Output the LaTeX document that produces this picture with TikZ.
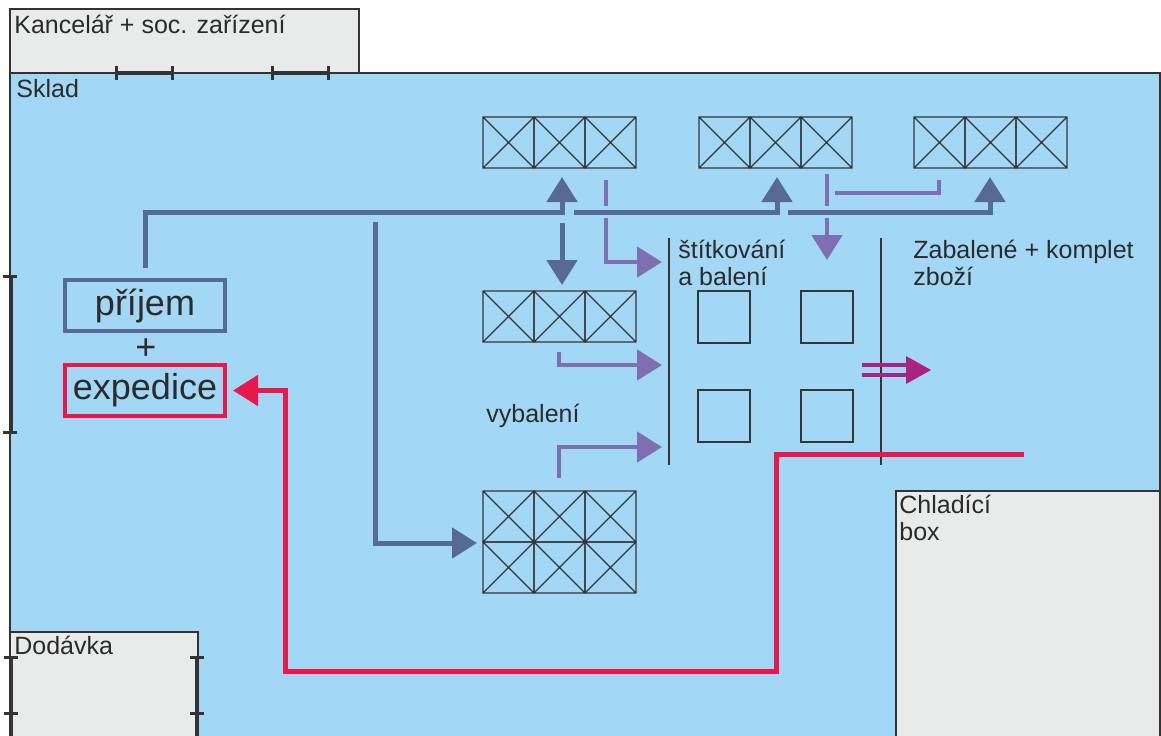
\documentclass[tikz,border=0pt]{standalone}
\usepackage{fontspec}
\setmainfont{Liberation Sans}
\usetikzlibrary{arrows.meta}

\definecolor{sky}{RGB}{162,216,245}
\definecolor{wallgray}{RGB}{233,234,234}
\definecolor{wallc}{RGB}{51,51,51}
\definecolor{inkc}{RGB}{43,43,43}
\definecolor{flowblue}{RGB}{86,106,148}
\definecolor{flowviolet}{RGB}{127,111,176}
\definecolor{flowred}{RGB}{232,25,74}
\definecolor{flowmag}{RGB}{170,35,130}

\tikzset{
  room/.style={draw=wallc, line width=1pt},
  door/.style={draw=wallc, line width=2pt},
  tick/.style={draw=wallc, line width=1.5pt},
  cell/.style={draw=inkc!95, line width=0.6pt},
  lbl/.style={anchor=base west, inner sep=0pt, text=inkc, align=left,
    font=\fontsize{12.5}{13.5}\selectfont},
  bigbox/.style={line width=2pt, minimum width=80pt, minimum height=25.5pt,
    inner sep=0pt, text=inkc, font=\fontsize{18}{20}\selectfont},
  bflow/.style={flowblue, line width=2.5pt},
  vflow/.style={flowviolet, line width=2.4pt},
  rflow/.style={flowred, line width=2.5pt},
  tip/.style={-{Triangle[length=12.5pt,width=15pt]}},
}

% one row of three crossed pallet cells, #1/#2 = top left corner
\newcommand{\rackrow}[2]{%
  \foreach \i in {0,1,2}{%
    \draw[cell] (#1+51*\i,#2) rectangle ++(51,51)
      (#1+51*\i,#2) -- ++(51,51)
      (#1+51*\i+51,#2) -- ++(-51,51);
  }}

\begin{document}
\begin{tikzpicture}[x=0.5pt, y=-0.5pt]
  \useasboundingbox (0,0) rectangle (1161,735);

  % rooms
  \draw[room, fill=sky] (10,73) rectangle (1160,740);
  \draw[room, fill=wallgray] (10,9) rectangle (359,73);
  \draw[room, fill=wallgray] (10,632) rectangle (198,740);
  \draw[room, fill=wallgray] (896,491) rectangle (1160,740);

  % doors
  \foreach \a/\b in {116/172, 272/328}{
    \draw[door] (\a,73) -- (\b,73);
    \draw[tick] (\a,66) -- (\a,80) (\b,66) -- (\b,80);
  }
  \draw[door] (11,276) -- (11,432);
  \draw[tick] (3,276) -- (17,276) (3,432) -- (17,432);
  \foreach \x in {11,197}{
    \draw[door] (\x,657) -- (\x,740);
    \draw[tick] (\x-7,657) -- (\x+7,657) (\x-7,713) -- (\x+7,713);
  }

  % labels
  \node[lbl] (office) at (14,33) {Kancelář + soc. zařízení};
  \node[lbl] (store) at (16,97) {Sklad};
  \node[lbl] (van) at (14,654) {Dodávka};
  \node[lbl] (cool) at (899,540) {Chladící\\box};
  \node[lbl] (labeling) at (678,285) {štítkování\\a balení};
  \node[lbl] (packed) at (913,285) {Zabalené + komplet\\zboží};
  \node[lbl] (unpack) at (486,422) {vybalení};

  % racks
  \rackrow{483}{117}
  \rackrow{699}{117}
  \rackrow{914}{117}
  \rackrow{483}{291}
  \rackrow{483}{491}
  \rackrow{483}{542}

  % packing tables
  \foreach \x/\y in {698/291, 801/291, 698/390, 801/390}
    \draw[cell] (\x,\y) rectangle ++(52,52);
  \draw[cell] (669,238) -- (669,465);
  \draw[cell] (881,238) -- (881,465);

  % in / out
  \node[bigbox, draw=flowblue] (prijem) at (145,305.5) {příjem};
  \node[text=inkc, font=\fontsize{18}{20}\selectfont] (plus) at (146,349) {+};
  \node[bigbox, draw=flowred] (expedice) at (145,390.5) {expedice};

  % flows
  \draw[bflow, tip] ([yshift=5pt]prijem.north) |- (562,212) -- (562,177);
  \draw[bflow, tip] (574,212) -- (777,212) -- (777,177);
  \draw[bflow, tip] (788,212) -- (990,212) -- (990,177);
  \draw[bflow, tip] (562,223) -- (562,285);
  \draw[bflow, tip] (375,222) |- (477,543);

  \draw[vflow] (606,180) -- (606,206);
  \draw[vflow, tip] (606,218) |- (662,262);
  \draw[vflow] (827,174) -- (827,206);
  \draw[vflow, tip] (827,218) -- (827,260);
  \draw[vflow] (835,193) -| (939,180);
  \draw[vflow, tip] (559,352) |- (662,365);
  \draw[vflow, tip] (559,478) |- (662,447);

  \draw[rflow, tip] (1024,454) -| (776,671) -| (285,390.5)
    -- ([xshift=3pt]expedice.east);

  \draw[flowmag, line width=2pt] (862,365) -- (910,365) (862,374.5) -- (910,374.5);
  \fill[flowmag] (906,356) -- (931,370) -- (906,384) -- cycle;
\end{tikzpicture}
\end{document}
